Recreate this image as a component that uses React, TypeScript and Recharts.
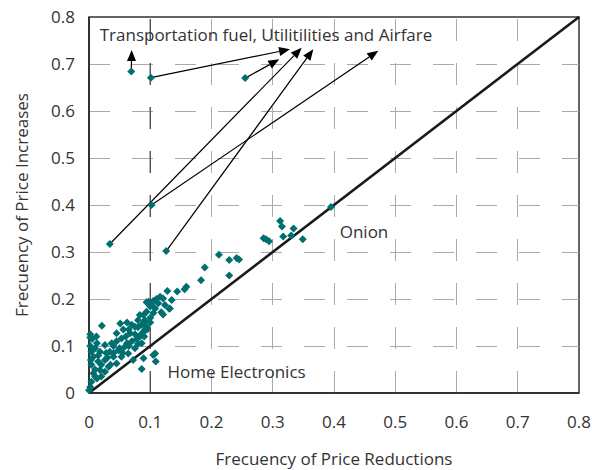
import React from 'react';
import {
  ScatterChart,
  Scatter,
  XAxis,
  YAxis,
  ReferenceLine,
  ReferenceArea,
  ReferenceDot,
} from 'recharts';

// ---- data ----
const axisTicks = [0, 0.1, 0.2, 0.3, 0.4, 0.5, 0.6, 0.7, 0.8];
const tickLabels = ['0', '0.1', '0.2', '0.3', '0.4', '0.5', '0.6', '0.7', '0.8'];
const hGridValues = [0.1, 0.2, 0.3, 0.4, 0.5, 0.6, 0.7];
const vGridValues = [0.2, 0.3, 0.4, 0.5, 0.6, 0.7];
const darkGridX = 0.1;

// Frequency of price reductions (x) and increases (y) per product
const priceReductions = [
  0.069, 0.101, 0.255, 0.034, 0.102, 0.126,
  0.395, 0.312, 0.315, 0.334, 0.317, 0.330, 0.285, 0.289, 0.294, 0.349,
  0.212, 0.229, 0.241, 0.245, 0.189, 0.229, 0.183, 0.159, 0.156, 0.144, 0.128, 0.116, 0.121, 0.135, 0.110,
  0.105, 0.094, 0.113, 0.100, 0.108, 0.131, 0.094, 0.121, 0.089, 0.091, 0.086, 0.094, 0.089, 0.086, 0.108,
  0.124, 0.132, 0.097, 0.102, 0.083, 0.118, 0.105,
  0.062, 0.021, 0.051, 0.091, 0.075, 0.056, 0.091, 0.045, 0.002, 0.067, 0.083, 0.053, 0.013, 0.037, 0.062,
  0.026, 0.075, 0.048, 0.004, 0.018, 0.034, 0.064, 0.007, 0.040, 0.053, 0.026, 0.015, 0.045, 0.004, 0.032,
  0.018, 0.007, 0.026, 0.013, 0.004, 0.002, 0.000,
  0.072, 0.089, 0.105, 0.109, 0.086,
  0.010, 0.030, 0.050, 0.060, 0.070, 0.040, 0.055, 0.020, 0.035, 0.010, 0.065, 0.075, 0.080, 0.070, 0.080,
  0.058, 0.045, 0.028, 0.015, 0.003, 0.002, 0.005, 0.012, 0.040, 0.065, 0.090, 0.095, 0.100, 0.100, 0.078,
  0.085, 0.002, 0.010, 0.020, 0.080,
];
const priceIncreases = [
  0.684, 0.671, 0.670, 0.317, 0.400, 0.302,
  0.396, 0.366, 0.354, 0.350, 0.333, 0.335, 0.329, 0.327, 0.323, 0.327,
  0.294, 0.283, 0.287, 0.284, 0.267, 0.250, 0.240, 0.226, 0.221, 0.216, 0.217, 0.205, 0.201, 0.198, 0.200,
  0.196, 0.193, 0.191, 0.184, 0.180, 0.179, 0.173, 0.167, 0.166, 0.155, 0.145, 0.141, 0.130, 0.106, 0.084,
  0.187, 0.180, 0.194, 0.187, 0.166, 0.172, 0.170,
  0.150, 0.143, 0.148, 0.152, 0.141, 0.135, 0.134, 0.127, 0.118, 0.127, 0.120, 0.116, 0.106, 0.106, 0.106,
  0.102, 0.095, 0.091, 0.088, 0.088, 0.088, 0.084, 0.077, 0.077, 0.077, 0.070, 0.067, 0.063, 0.060, 0.056,
  0.049, 0.042, 0.045, 0.031, 0.024, 0.013, 0.006,
  0.070, 0.074, 0.081, 0.067, 0.051,
  0.095, 0.075, 0.095, 0.120, 0.110, 0.100, 0.085, 0.060, 0.060, 0.050, 0.135, 0.125, 0.140, 0.145, 0.155,
  0.098, 0.110, 0.085, 0.080, 0.070, 0.100, 0.115, 0.120, 0.085, 0.100, 0.120, 0.135, 0.150, 0.160, 0.115,
  0.125, 0.125, 0.035, 0.035, 0.105,
];

// Arrows (annotation) from a product point to the label
const arrowFromX = [0.069, 0.101, 0.255, 0.034, 0.102, 0.126];
const arrowFromY = [0.684, 0.671, 0.670, 0.317, 0.400, 0.302];
const arrowToX = [0.0697, 0.3282, 0.3107, 0.3473, 0.4723, 0.3662];
const arrowToY = [0.7298, 0.7313, 0.710, 0.7347, 0.7283, 0.7313];

const annotationTexts = ['Transportation fuel, Utilitilities and Airfare', 'Onion', 'Home Electronics'];
const annotationX = [0.289, 0.449, 0.241];
const annotationY = [0.762, 0.3426, 0.0447];

const points = priceReductions.map((x, i) => ({ x, y: priceIncreases[i] }));

// ---- styles ----
const TEAL = '#006f70';
const TEXT = '#333333';
const FONT = '"Open Sans", sans-serif';
const FS = 17;
const GRID = '#aaaaaa';

const Diamond = (props: any) => {
  const { cx, cy } = props;
  if (cx == null || cy == null) return null;
  const r = 4;
  return (
    <polygon
      points={`${cx},${cy - r} ${cx + r},${cy} ${cx},${cy + r} ${cx - r},${cy}`}
      fill={TEAL}
    />
  );
};

const Arrow = (props: any) => {
  const { x1, y1, x2, y2 } = props;
  const dx = x2 - x1;
  const dy = y2 - y1;
  const len = Math.sqrt(dx * dx + dy * dy) || 1;
  const ux = dx / len;
  const uy = dy / len;
  const hl = 11;
  const hw = 4.5;
  const bx = x2 - ux * hl;
  const by = y2 - uy * hl;
  const px = -uy;
  const py = ux;
  return (
    <g>
      <line x1={x1} y1={y1} x2={bx} y2={by} stroke="#000" strokeWidth={1.2} />
      <polygon
        points={`${x2},${y2} ${bx + px * hw},${by + py * hw} ${bx - px * hw},${by - py * hw}`}
        fill="#000"
      />
    </g>
  );
};

const HGrid = (props: any) => {
  const { x1, y1, x2, y2 } = props;
  return (
    <path
      d={`M${Math.min(x1, x2)},${y1}L${Math.max(x1, x2)},${y2}`}
      fill="none"
      stroke={GRID}
      strokeWidth={1}
      strokeDasharray="21 22"
      shapeRendering="crispEdges"
    />
  );
};

const VGrid = (props: any) => {
  const { x1, y1, x2, y2 } = props;
  return (
    <path
      d={`M${x1},${Math.max(y1, y2)}L${x2},${Math.min(y1, y2)}`}
      fill="none"
      stroke={GRID}
      strokeWidth={1}
      strokeDasharray="22 22"
      shapeRendering="crispEdges"
    />
  );
};

const DarkVLine = (props: any) => {
  const { x1, y1, x2, y2 } = props;
  return (
    <line
      x1={x1}
      y1={Math.max(y1, y2)}
      x2={x2}
      y2={Math.min(y1, y2)}
      stroke="#444444"
      strokeWidth={1.3}
      strokeDasharray="22 22"
    />
  );
};

const fmt = (v: number) => tickLabels[axisTicks.findIndex((t) => Math.abs(t - v) < 1e-9)] ?? String(v);

export default function App() {
  return (
    <div style={{ position: 'fixed', left: 0, top: 0, width: 592, height: 470, background: '#fff', fontFamily: FONT }}>
      <ScatterChart
        width={592}
        height={470}
        margin={{ top: 17, right: 13, bottom: 0, left: 0 }}
      >
        <XAxis
          type="number"
          dataKey="x"
          domain={[0, 0.8]}
          ticks={axisTicks}
          tickFormatter={fmt}
          height={77}
          tickLine={false}
          tickSize={0}
          tickMargin={23}
          axisLine={{ stroke: '#222', strokeWidth: 1.5 }}
          tick={{ fill: TEXT, fontSize: FS }}
          interval={0}
          label={{
            content: (p: any) => {
              const vb = p.viewBox;
              return (
                <text
                  x={vb.x + vb.width / 2}
                  y={vb.y + 72}
                  textAnchor="middle"
                  fill={TEXT}
                  fontSize={FS}
                >
                  Frecuency of Price Reductions
                </text>
              );
            },
          }}
        />
        <YAxis
          type="number"
          dataKey="y"
          domain={[0, 0.8]}
          ticks={axisTicks}
          tickFormatter={fmt}
          width={89}
          tickLine={false}
          tickSize={0}
          tickMargin={14}
          axisLine={{ stroke: '#222', strokeWidth: 1.5 }}
          tick={{ fill: TEXT, fontSize: FS }}
          interval={0}
          label={{
            content: (p: any) => {
              const vb = p.viewBox;
              const cx = vb.x + 21;
              const cy = vb.y + vb.height / 2;
              return (
                <text
                  x={cx}
                  y={cy}
                  textAnchor="middle"
                  dominantBaseline="central"
                  fill={TEXT}
                  fontSize={FS}
                  transform={`rotate(-90, ${cx}, ${cy})`}
                >
                  Frecuency of Price Increases
                </text>
              );
            },
          }}
        />
        {hGridValues.map((v) => (
          <ReferenceLine key={`hg-${v}`} y={v} stroke={GRID} shape={HGrid} />
        ))}
        {vGridValues.map((v) => (
          <ReferenceLine key={`vg-${v}`} x={v} stroke={GRID} shape={VGrid} />
        ))}
        <ReferenceLine x={darkGridX} stroke="#444" shape={DarkVLine} />
        <ReferenceArea x1={0} x2={0.8} y1={0} y2={0.8} fill="none" stroke="#333" strokeWidth={1.5} fillOpacity={0} />
        <ReferenceLine
          segment={[{ x: 0, y: 0 }, { x: 0.8, y: 0.8 }]}
          stroke="#1a1a1a"
          strokeWidth={2.6}
        />
        {arrowFromX.map((fx, i) => (
          <ReferenceLine
            key={`arrow-${i}`}
            segment={[{ x: fx, y: arrowFromY[i] }, { x: arrowToX[i], y: arrowToY[i] }]}
            shape={Arrow}
          />
        ))}
        <Scatter data={points} shape={Diamond} isAnimationActive={false} />
        {annotationTexts.map((t, i) => (
          <ReferenceDot
            key={`ann-${i}`}
            x={annotationX[i]}
            y={annotationY[i]}
            r={1}
            fill="none"
            stroke="none"
            label={{ value: t, position: 'center', fill: TEXT, fontSize: FS }}
          />
        ))}
      </ScatterChart>
    </div>
  );
}
